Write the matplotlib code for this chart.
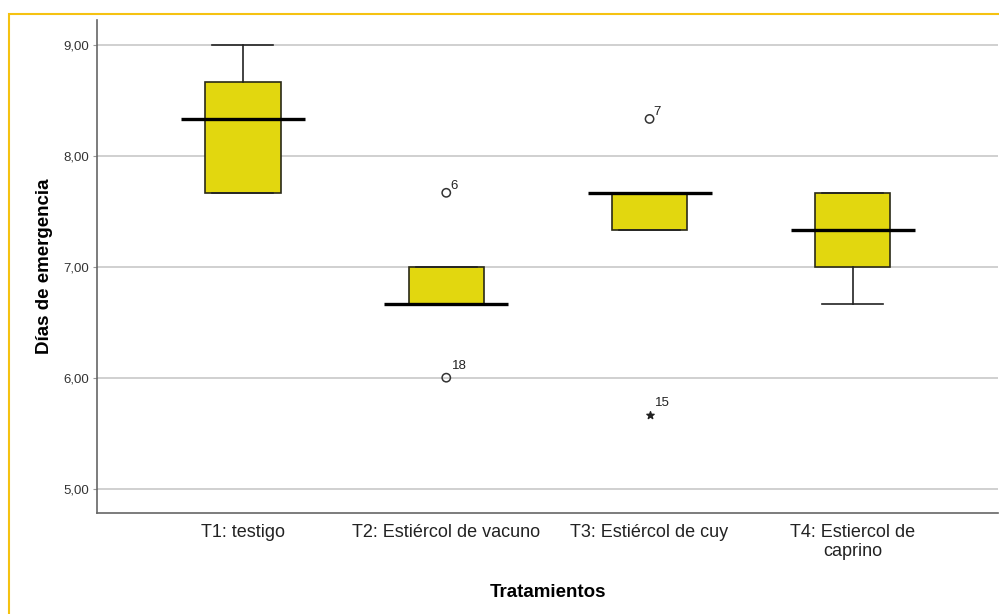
import matplotlib.pyplot as plt
from matplotlib.patches import Rectangle

plt.rcParams['font.family'] = ['Liberation Sans', 'DejaVu Sans']

# treatment groups and their box statistics (days to emergence)
grupos = ["T1: testigo", "T2: Estiércol de vacuno", "T3: Estiércol de cuy",
          "T4: Estiercol de\ncaprino"]
q1 = [7.667, 6.667, 7.333, 7.0]
mediana = [8.333, 6.667, 7.667, 7.333]
q3 = [8.667, 7.0, 7.667, 7.667]
bigote_inf = [7.667, 6.667, 7.333, 6.667]
bigote_sup = [9.0, 7.0, 7.667, 7.667]

# outliers (circle) and extreme values (star) with case numbers
atipicos_x = [1, 1, 2]
atipicos_y = [7.667, 6.0, 8.333]
atipicos_id = ["6", "18", "7"]
extremos_x = [2]
extremos_y = [5.667]
extremos_id = ["15"]

ticks_y = [5, 6, 7, 8, 9]

fig = plt.figure(figsize=(9.99, 6.14), dpi=100)
ax = fig.add_axes([97 / 999, 1 - 513 / 614, 901 / 999, 493 / 614])

stats = []
for i in range(len(grupos)):
    stats.append({"q1": q1[i], "med": mediana[i], "q3": q3[i],
                  "whislo": bigote_inf[i], "whishi": bigote_sup[i],
                  "fliers": []})

pos = list(range(len(grupos)))
ax.bxp(stats, positions=pos, widths=0.37, patch_artist=True,
       showfliers=False,
       boxprops=dict(facecolor="#e2d70f", edgecolor="#2a2a18", linewidth=1.2),
       whiskerprops=dict(color="#222222", linewidth=1.2),
       capprops=dict(color="#222222", linewidth=1.2),
       capwidths=0.3,
       medianprops=dict(linewidth=0))

# median line drawn wider than the box
ax.hlines(mediana, [p - 0.305 for p in pos], [p + 0.305 for p in pos],
          colors="black", linewidth=2.4, zorder=5)

ax.scatter(atipicos_x, atipicos_y, s=36, facecolors="none",
           edgecolors="#333333", linewidths=1.1, zorder=6)
for x, y, t in zip(atipicos_x, atipicos_y, atipicos_id):
    off = (4, 6) if len(t) > 1 else (3, 3)
    ax.annotate(t, (x, y), xytext=off, textcoords="offset points",
                fontsize=9.5, color="#222222")
ax.scatter(extremos_x, extremos_y, marker="*", s=30, color="#222222", zorder=6)
for x, y, t in zip(extremos_x, extremos_y, extremos_id):
    ax.annotate(t, (x, y), xytext=(4, 6), textcoords="offset points",
                fontsize=9.5, color="#222222")

ax.set_xlim(-0.718, 3.714)
ax.set_ylim(4.78, 9.225)
ax.set_yticks(ticks_y)
ax.set_yticklabels([f"{v:.2f}".replace(".", ",") for v in ticks_y], fontsize=9.5,
                   color="#333333")
ax.set_xticks(pos)
ax.set_xticklabels(grupos, fontsize=13, color="#222222", linespacing=1.15)
ax.tick_params(axis="x", length=0, pad=8)
ax.tick_params(axis="y", length=3, color="#999999", pad=3)
ax.yaxis.grid(True, color="#c8c8c8", linewidth=1.2)
ax.set_axisbelow(True)

for s in ["top", "right"]:
    ax.spines[s].set_visible(False)
for s in ["left", "bottom"]:
    ax.spines[s].set_color("#666666")
    ax.spines[s].set_linewidth(1.2)

ax.set_ylabel("Días de emergencia", fontsize=13.5, fontweight="bold", labelpad=7)
ax.set_xlabel("Tratamientos", fontsize=13.5, fontweight="bold", labelpad=17)

# yellow frame around the chart
fig.patches.append(Rectangle((9 / 999, -0.1), 1.0, 1 - 14 / 614 + 0.1,
                             transform=fig.transFigure, fill=False,
                             edgecolor="#f5c211", linewidth=1.5))

fig.savefig("out.png", dpi=100)
